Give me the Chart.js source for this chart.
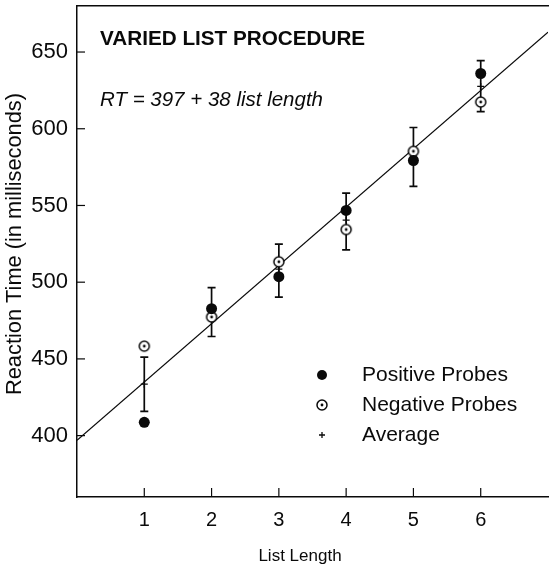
<!DOCTYPE html>
<html><head><meta charset="utf-8">
<script src="https://cdn.jsdelivr.net/npm/chart.js@4/dist/chart.umd.min.js"></script>
<style>html,body{margin:0;padding:0;background:#fff;overflow:hidden}
#wrap{position:relative;width:554px;height:571px}</style></head>
<body><div id="wrap"><canvas id="c" width="554" height="571"></canvas></div>
<script>
// ---- data ----
const listLengths = [1, 2, 3, 4, 5, 6];
const positiveProbes = [408.7, 482.7, 503.6, 546.8, 579.3, 636.0];
const negativeProbes = [458.3, 477.3, 513.3, 534.3, 585.3, 617.4];
const averageRT = [433.5, 480.0, 508.5, 540.5, 582.3, 627.6];
const errorUpper = [451.2, 496.5, 524.8, 558.0, 600.8, 644.4];
const errorLower = [415.8, 464.6, 490.3, 521.0, 562.4, 611.1];
const xTicks = [1, 2, 3, 4, 5, 6];
const yTicks = [400, 450, 500, 550, 600, 650];
const fitIntercept = 397;
const fitSlope = 38;
const fitRange = [0, 7];
const seriesNames = ['Positive Probes', 'Negative Probes', 'Average'];
const chartTitle = 'VARIED LIST PROCEDURE';
const equationText = 'RT = 397 + 38 list length';
const xTitle = 'List Length';
const yTitle = 'Reaction Time (in milliseconds)';

const FONT = "'Liberation Sans', Arial, Helvetica, sans-serif";
const INK = '#0a0a0a';

// hollow circle with centre dot marker
function ringMarker(r) {
  const s = Math.ceil(r * 2 + 4);
  const cv = document.createElement('canvas');
  cv.width = s; cv.height = s;
  const g = cv.getContext('2d');
  g.fillStyle = '#fff'; g.strokeStyle = INK; g.lineWidth = 1.5;
  g.beginPath(); g.arc(s / 2, s / 2, r, 0, Math.PI * 2); g.fill(); g.stroke();
  g.fillStyle = INK;
  g.beginPath(); g.arc(s / 2, s / 2, 1.4, 0, Math.PI * 2); g.fill();
  return cv;
}
const ring = ringMarker(5);

const pts = (ys) => listLengths.map((x, i) => ({ x, y: ys[i] }));
const fitLine = fitRange.map(x => ({ x, y: fitIntercept + fitSlope * x }));

const decor = {
  id: 'decor',
  beforeDatasetsDraw(chart) {
    const { ctx, scales: { x, y } } = chart;
    ctx.save();
    ctx.strokeStyle = INK;
    // error bars
    ctx.lineWidth = 1.7;
    listLengths.forEach((L, i) => {
      const px = x.getPixelForValue(L);
      const pt = y.getPixelForValue(errorUpper[i]);
      const pb = y.getPixelForValue(errorLower[i]);
      ctx.beginPath();
      ctx.moveTo(px, pt); ctx.lineTo(px, pb);
      ctx.moveTo(px - 4, pt); ctx.lineTo(px + 4, pt);
      ctx.moveTo(px - 4, pb); ctx.lineTo(px + 4, pb);
      ctx.stroke();
    });
    // inward tick marks
    ctx.lineWidth = 1.2;
    x.ticks.forEach(t => {
      const px = x.getPixelForValue(t.value);
      ctx.beginPath(); ctx.moveTo(px, y.bottom); ctx.lineTo(px, y.bottom - 9); ctx.stroke();
    });
    y.ticks.forEach(t => {
      const py = y.getPixelForValue(t.value);
      ctx.beginPath(); ctx.moveTo(x.left, py); ctx.lineTo(x.left + 8, py); ctx.stroke();
    });
    ctx.restore();
  },
  afterDraw(chart) {
    const { ctx, chartArea: a } = chart;
    ctx.save();
    ctx.fillStyle = INK;
    ctx.textBaseline = 'middle';
    ctx.textAlign = 'left';
    ctx.font = 'bold 20.7px ' + FONT;
    ctx.fillText(chartTitle, a.left + 23, a.top + 33);
    ctx.font = 'italic 20.5px ' + FONT;
    ctx.fillText(equationText, a.left + 23, a.top + 94);
    // legend
    const lx = a.left + 245, tx = a.left + 285;
    const rows = [a.top + 369, a.top + 399, a.top + 429];
    ctx.font = '21px ' + FONT;
    seriesNames.forEach((n, i) => ctx.fillText(n, tx, rows[i]));
    ctx.beginPath(); ctx.arc(lx, rows[0], 5, 0, Math.PI * 2); ctx.fill();
    ctx.drawImage(ring, lx - ring.width / 2, rows[1] - ring.height / 2);
    ctx.strokeStyle = INK; ctx.lineWidth = 1.3;
    ctx.beginPath(); ctx.moveTo(lx - 3, rows[2]); ctx.lineTo(lx + 3, rows[2]);
    ctx.moveTo(lx, rows[2] - 3); ctx.lineTo(lx, rows[2] + 3); ctx.stroke();
    // axis titles
    ctx.textAlign = 'center';
    ctx.font = '17px ' + FONT;
    ctx.fillText(xTitle, 300, 556);
    ctx.translate(15, 244); ctx.rotate(-Math.PI / 2);
    ctx.font = '21.8px ' + FONT;
    ctx.fillText(yTitle, 0, 0);
    ctx.restore();
  }
};

const noPadX = s => { s.paddingLeft = 0; s.paddingRight = 0; };
const noPadY = s => { s.paddingTop = 0; s.paddingBottom = 0; };

new Chart(document.getElementById('c'), {
  type: 'scatter',
  data: {
    datasets: [
      { label: seriesNames[0], data: pts(positiveProbes), pointStyle: 'circle', pointRadius: 5.5,
        backgroundColor: INK, borderColor: INK, borderWidth: 0, order: 1 },
      { label: seriesNames[1], data: pts(negativeProbes), pointStyle: ring, pointRadius: 5, order: 2 },
      { label: seriesNames[2], data: pts(averageRT), pointStyle: 'cross', pointRadius: 3.5,
        borderColor: INK, borderWidth: 1.3, order: 3 },
      { label: 'fit', data: fitLine, showLine: true, pointRadius: 0, borderColor: INK,
        borderWidth: 1.2, order: 10 }
    ]
  },
  options: {
    responsive: false,
    animation: false,
    devicePixelRatio: 1,
    layout: { padding: { top: 4, left: 0, right: 0, bottom: 0 } },
    plugins: { legend: { display: false }, tooltip: { enabled: false } },
    scales: {
      x: {
        type: 'linear', position: 'bottom', min: fitRange[0], max: fitRange[1],
        afterBuildTicks: s => { s.ticks = xTicks.map(v => ({ value: v })); },
        afterFit: s => { s.height = 74; noPadX(s); },
        grid: { display: false, drawTicks: false },
        border: { display: true, color: INK, width: 1.5 },
        ticks: { color: INK, font: { family: FONT, size: 20 }, padding: 11, maxRotation: 0 }
      },
      xTop: {
        type: 'linear', position: 'top', min: fitRange[0], max: fitRange[1],
        afterFit: s => { s.height = 0; noPadX(s); },
        grid: { display: false },
        border: { display: true, color: INK, width: 1.5 },
        ticks: { display: false }
      },
      y: {
        type: 'linear', min: 360, max: 680,
        afterBuildTicks: s => { s.ticks = yTicks.map(v => ({ value: v })); },
        afterFit: s => { s.width = 77; noPadY(s); },
        grid: { display: false, drawTicks: false },
        border: { display: true, color: INK, width: 1.5 },
        ticks: { color: INK, font: { family: FONT, size: 22 }, padding: 9 }
      }
    }
  },
  plugins: [decor]
});
</script>
</body></html>
